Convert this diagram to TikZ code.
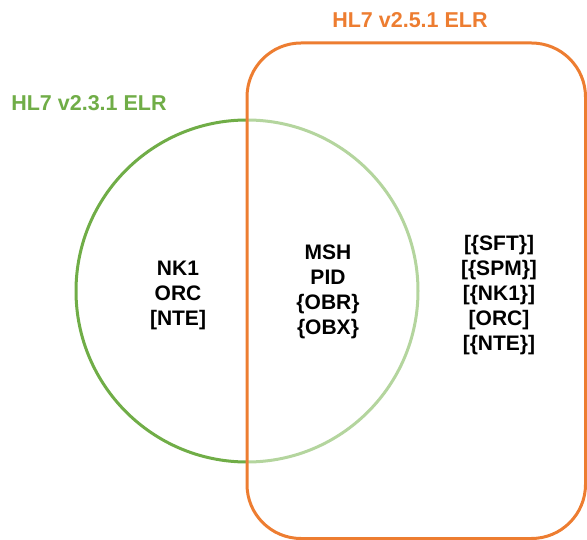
\documentclass[tikz,border=0pt]{standalone}
\usepackage{fontspec}
\setmainfont{Liberation Sans}
\definecolor{elrorange}{HTML}{ED7D31}
\definecolor{elrgreen}{HTML}{70AD47}
\definecolor{elrlight}{HTML}{B4D59E}
\begin{document}
\begin{tikzpicture}[x=1pt,y=-1pt,
  seglist/.style={align=center,font=\fontsize{21}{25}\selectfont\bfseries,text=black,inner sep=0pt},
  title/.style={font=\fontsize{21.5}{25}\selectfont\bfseries,inner sep=0pt}]
  \useasboundingbox (0,0) rectangle (587,540);
  % v2.3.1 circle (centre 247,291): dark outside the v2.5.1 box, light inside it
  \draw[elrgreen,line width=3pt] (247,120) arc[start angle=-90,end angle=-270,radius=171];
  \draw[elrlight,line width=3pt] (247,462) arc[start angle=90,end angle=-90,radius=171];
  % v2.5.1 box
  \draw[elrorange,line width=3pt,rounded corners=54pt] (247,43) rectangle (585.5,538.5);
  % titles
  \node[title,text=elrorange] (t251) at (410,20) {HL7 v2.5.1 ELR};
  \node[title,text=elrgreen] (t231) at (89,103) {HL7 v2.3.1 ELR};
  % segment lists
  \node[seglist] (only231) at (178,295) {NK1\\ORC\\{[}NTE{]}};
  \node[seglist] (both) at (328,292) {MSH\\PID\\\{OBR\}\\\{OBX\}};
  \node[seglist] (only251) at (499,295) {{[}\{SFT\}{]}\\{[}\{SPM\}{]}\\{[}\{NK1\}{]}\\{[}ORC{]}\\{[}\{NTE\}{]}};
\end{tikzpicture}
\end{document}
